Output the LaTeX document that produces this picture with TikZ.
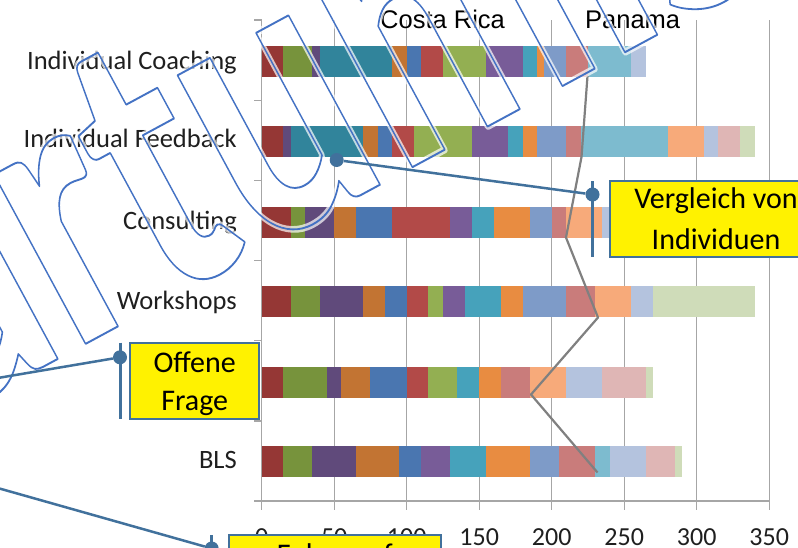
\documentclass[tikz,border=0pt]{standalone}
\usepackage{fontspec}
\setmainfont{Carlito}
\newfontfamily\arialf{Liberation Sans}
\makeatletter
\newcommand\pdfinvoke[1]{\pgfsys@invoke{#1}}
\makeatother
\definecolor{c1}{HTML}{953735}
\definecolor{c2}{HTML}{77933C}
\definecolor{c3}{HTML}{604A7B}
\definecolor{c4}{HTML}{31849B}
\definecolor{c5}{HTML}{C27433}
\definecolor{c6}{HTML}{4A76B0}
\definecolor{c7}{HTML}{B24A48}
\definecolor{c8}{HTML}{93AF52}
\definecolor{c9}{HTML}{785C98}
\definecolor{c10}{HTML}{46A2BB}
\definecolor{c11}{HTML}{E88C41}
\definecolor{c12}{HTML}{7E9BC8}
\definecolor{c13}{HTML}{C97C7B}
\definecolor{c14}{HTML}{7DBBCF}
\definecolor{c15}{HTML}{F7AA7A}
\definecolor{c16}{HTML}{B4C3DE}
\definecolor{c17}{HTML}{DFB6B5}
\definecolor{c18}{HTML}{CFDCB9}
\definecolor{gridgray}{HTML}{A6A6A6}
\definecolor{pinblue}{HTML}{41719C}
\definecolor{wmblue}{HTML}{4472C4}
\newcommand\drawbar[2]{\foreach \a/\b/\c in {#2} {\fill[\c] (\a,{#1-15.7}) rectangle (\b,{#1+15.7});}}
\begin{document}
\begin{tikzpicture}[x=1pt,y=-1pt,
  gridline/.style={draw=gridgray,line width=1.3pt},
  catlab/.style={anchor=base east,inner sep=0pt,text=black!88,font=\fontsize{26.5}{30}\selectfont},
  ticklab/.style={anchor=base,inner sep=0pt,text=black!88,font=\fontsize{26}{30}\selectfont},
  toplab/.style={anchor=base west,inner sep=0pt,text=black,font=\arialf\fontsize{25.5}{30}\selectfont},
  panline/.style={draw=black!50,line width=2.2pt,line join=round},
  callbox/.style={draw=pinblue,line width=2pt,fill=yellow,inner sep=0pt},
  calltext/.style={anchor=base,inner sep=0pt,text=black,font=\fontsize{30}{36}\selectfont},
  pinline/.style={draw=pinblue,line width=3pt},
  leader/.style={draw=pinblue,line width=2.5pt},
  pindot/.style={circle,fill=pinblue,inner sep=0pt,minimum size=14pt},
  wmglow/.style={transform shape,anchor=base west,inner sep=0pt,text=white,opacity=0.7,font=\bfseries\fontsize{397}{400}\selectfont},
  wmtext/.style={transform shape,anchor=base west,inner sep=0pt,text=wmblue,font=\bfseries\fontsize{397}{400}\selectfont},
]
\useasboundingbox (0,0) rectangle (798,547);
\clip (0,0) rectangle (798,547);
\fill[white] (0,0) rectangle (798,547);
% grid and axes
\foreach \k in {1,...,7} {\draw[gridline] ({261.7+72.5*\k},20) -- ({261.7+72.5*\k},510);}
\draw[gridline] (261.7,20) -- (261.7,510);
\draw[gridline] (254,501) -- (769.2,501);
\foreach \k in {0,...,5} {\draw[gridline] (254,{20+80.17*\k}) -- (261.7,{20+80.17*\k});}
% bars
\begin{scope}[xshift=261.7pt,x=1.45pt]
\drawbar{61.5}{0/15/c1,15/35/c2,35/40/c3,40/90/c4,90/100/c5,100/110/c6,110/125/c7,125/155/c8,155/180/c9,180/190/c10,190/195/c11,195/210/c12,210/225/c13,225/255/c14,255/265/c16}
\drawbar{141.2}{0/15/c1,15/20/c3,20/70/c4,70/80/c5,80/90/c6,90/105/c7,105/145/c8,145/170/c9,170/180/c10,180/190/c11,190/210/c12,210/220/c13,220/280/c14,280/305/c15,305/315/c16,315/330/c17,330/340/c18}
\drawbar{222.2}{0/20/c1,20/30/c2,30/50/c3,50/65/c5,65/90/c6,90/130/c7,130/145/c9,145/160/c10,160/185/c11,185/200/c12,200/210/c13,210/235/c15,235/250/c16}
\drawbar{301.5}{0/20/c1,20/40/c2,40/70/c3,70/85/c5,85/100/c6,100/115/c7,115/125/c8,125/140/c9,140/165/c10,165/180/c11,180/210/c12,210/230/c13,230/255/c15,255/270/c16,270/340/c18}
\drawbar{382.2}{0/15/c1,15/45/c2,45/55/c3,55/75/c5,75/100/c6,100/115/c7,115/135/c8,135/150/c10,150/165/c11,165/185/c13,185/210/c15,210/235/c16,235/265/c17,265/270/c18}
\drawbar{461.7}{0/15/c1,15/35/c2,35/65/c3,65/95/c5,95/110/c6,110/130/c9,130/155/c10,155/185/c11,185/205/c12,205/230/c13,230/240/c14,240/265/c16,265/285/c17,285/290/c18}
\end{scope}
% line series
\draw[panline] (587.5,76) -- (581.5,157) -- (566,237.5) -- (598,317.5) -- (531,394.5) -- (597.5,472.5);
% labels
\node[catlab] (lc1) at (237,69) {Individual Coaching};
\node[catlab] (lc2) at (237,147.3) {Individual Feedback};
\node[catlab] (lc3) at (237,229) {Consulting};
\node[catlab] (lc4) at (237,309) {Workshops};
\node[catlab] (lc6) at (237,468.3) {BLS};
\foreach \k in {0,...,7} {\node[ticklab] (t\k) at ({261.7+72.5*\k},545) {\pgfmathparse{int(50*\k)}\pgfmathresult};}
\node[toplab] (cr) at (380,28.5) {Costa Rica};
\node[toplab] (pa) at (585,28.3) {Panama};
% watermark
\begin{scope}[shift={(-58,421.5)},rotate=28.4,xscale=0.75]
\node[wmglow] (wmg) at (0,0) {\pdfinvoke{1 Tr 7 w 1 j}artumis};
\node[wmtext] (wm) at (0,0) {\pdfinvoke{1 Tr 1.9 w 1 j}artumis};
\end{scope}
% callouts
\node[callbox,minimum width=212pt,minimum height=76pt] (vb) at (716,219) {};
\node[calltext] (vt1) at (716,208.3) {Vergleich von};
\node[calltext] (vt2) at (716,249) {Individuen};
\draw[pinline] (592.5,181) -- (592.5,257);
\node[pindot] (vd) at (592.5,194.5) {};
\node[pindot] (vs) at (336.7,160) {};
\draw[leader] (vs) -- (vd);
\node[callbox,minimum width=129.3pt,minimum height=76pt] (ob) at (194.7,380.7) {};
\node[calltext] (ot1) at (194.7,372.3) {Offene};
\node[calltext] (ot2) at (194.7,410.7) {Frage};
\draw[pinline] (120,342.7) -- (120,418.7);
\node[pindot] (od) at (120,357.3) {};
\coordinate (oe) at (-20,381);
\draw[leader] (od) -- (oe);
\node[callbox,minimum width=211.7pt,minimum height=76pt] (fb) at (335.2,573) {};
\node[calltext,anchor=base west] (ft1) at (276.7,564.5) {Fokus auf};
\draw[pinline] (211.7,535) -- (211.7,611);
\node[pindot] (fd) at (211.7,548.5) {};
\coordinate (fe) at (-20,483);
\draw[leader] (fd) -- (fe);
\end{tikzpicture}
\end{document}
